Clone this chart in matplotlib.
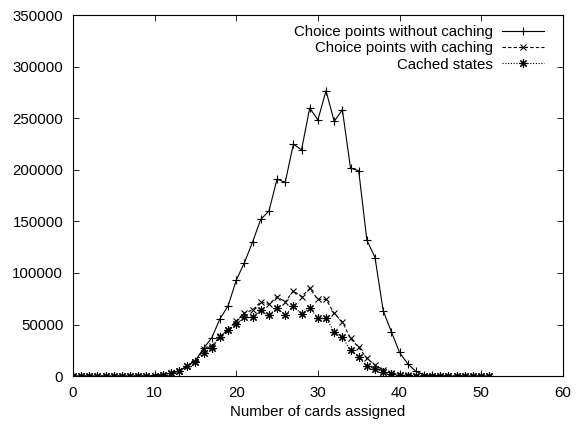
import numpy as np
import matplotlib
matplotlib.use("Agg")
import matplotlib.pyplot as plt

plt.rcParams['font.family'] = ['Liberation Sans', 'DejaVu Sans']

# number of cards assigned
cards = list(range(0, 52))

# choice points without caching
no_cache = [0, 0, 0, 0, 0, 0, 0, 0, 0, 200, 500,
            1500, 3000, 5000, 9700, 15000, 27000, 37000, 55500, 68000, 93000,
            110000, 130000, 152000, 160000, 191000, 188000, 225000, 219500, 260000, 248500,
            276700, 247000, 258300, 201700, 199300, 132000, 115000, 63500, 43000, 23000,
            12000, 4500, 1500, 600, 200, 0, 0, 0, 0, 0, 0]

# choice points with caching
with_cache = [0, 0, 0, 0, 0, 0, 0, 0, 0, 200, 500,
              1500, 3000, 5000, 9700, 14000, 26000, 29000, 38500, 45000, 53600,
              61400, 64000, 72000, 69500, 76900, 72000, 82700, 77000, 85000, 74400,
              74400, 60800, 52600, 36500, 27800, 17200, 10700, 5800, 3000, 1500,
              800, 300, 100, 100, 100, 100, 100, 100, 100, 100, 100]

# cached states
cached = [0, 0, 0, 0, 0, 0, 0, 0, 0, 200, 500,
          1500, 3000, 4900, 9700, 14000, 22500, 27500, 38000, 44500, 50500,
          57000, 57000, 64000, 59000, 66000, 59000, 68000, 60000, 66500, 56000,
          56000, 43000, 37500, 25000, 18500, 9500, 7000, 3800, 2000, 1000,
          500, 200, 50, 50, 50, 50, 50, 50, 50, 50, 50]

fs = 10.8

fig = plt.figure(figsize=(5.79, 4.24), dpi=100)
ax = fig.add_axes([0.126, 0.113, 0.846, 0.851])

ax.plot(cards, no_cache, color='black', lw=0.8, ls='-', marker='+', ms=6,
        mew=0.8, label='Choice points without caching')
ax.plot(cards, with_cache, color='black', lw=0.8, ls=(0, (3, 2)), marker='x',
        ms=5, mew=0.8, label='Choice points with caching')
ax.plot(cards, cached, color='black', lw=0.8, ls=(0, (1, 1.5)), marker=(8, 2, 0),
        ms=6, mew=0.8, label='Cached states')

ax.set_xlim(0, 60)
ax.set_ylim(0, 350000)
ax.set_xticks(range(0, 61, 10))
ax.set_yticks(range(0, 350001, 50000))
ax.tick_params(direction='in', top=True, right=True, length=4, width=0.6,
               labelsize=fs, pad=7)
for s in ax.spines.values():
    s.set_linewidth(0.8)
ax.set_xlabel('Number of cards assigned', fontsize=fs, labelpad=4)

ax.legend(loc='upper right', bbox_to_anchor=(0.973, 0.989), frameon=False,
          markerfirst=False, fontsize=fs, handlelength=2.8, handletextpad=0.6,
          labelspacing=0.15, borderaxespad=0, borderpad=0.4)

fig.savefig('out.png', dpi=100)
